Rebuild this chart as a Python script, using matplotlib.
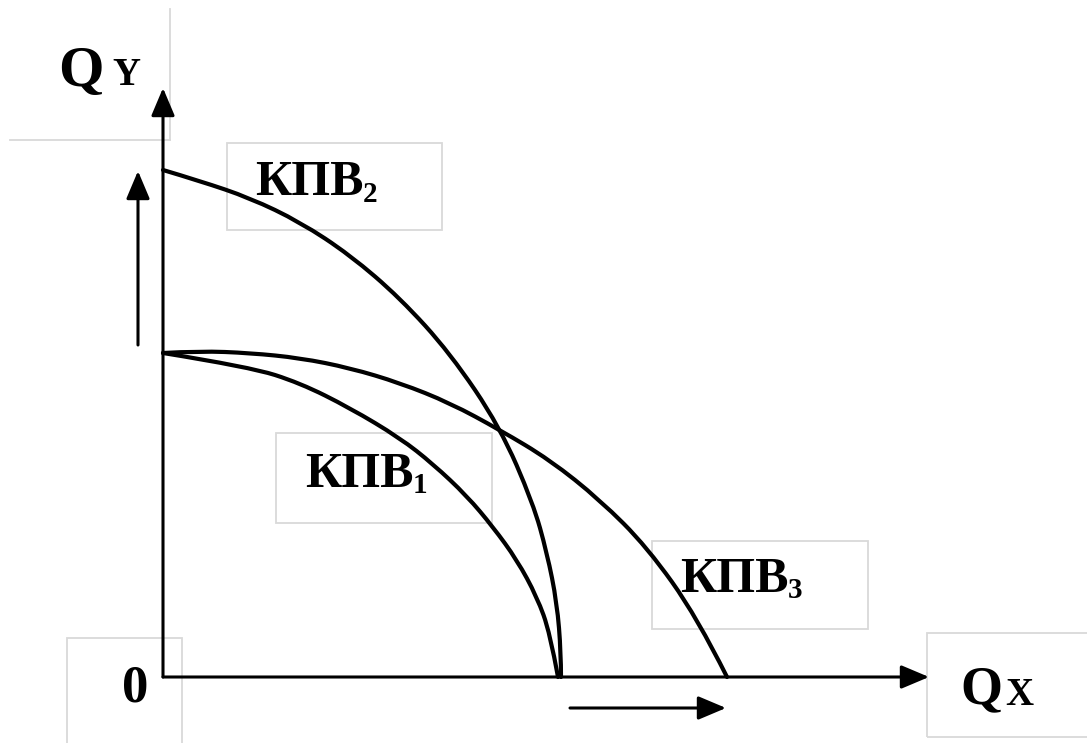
import numpy as np
import matplotlib
matplotlib.use("Agg")
import matplotlib.pyplot as plt
from matplotlib.path import Path
from matplotlib.patches import PathPatch, Rectangle

# ---- data (chart units: origin at the axes corner, x to the right, y upward) ----
kpv1_x = [0, 87, 137, 187, 237, 270, 304, 330, 354, 374, 387, 395]
kpv1_y = [324, 310, 294, 269, 239, 213, 181, 150, 117, 80, 44, 0]

kpv2_x = [0, 37, 87, 137, 187, 237, 287, 337, 370, 384, 394, 398, 398]
kpv2_y = [507, 496, 479, 455, 422, 379, 324, 250, 174, 124, 74, 24, 0]

kpv3_x = [0, 37, 87, 137, 187, 237, 287, 337, 387, 437, 484, 534, 564]
kpv3_y = [324, 326, 324, 319, 309, 294, 274, 247, 217, 177, 130, 60, 0]

curve_labels = ["КПВ", "КПВ", "КПВ"]
curve_subs = ["1", "2", "3"]

# ---- layout helpers (pixel positions of the reference converted to chart units) ----
OX, OY = 163, 677
def P(px, py):
    return (px - OX, OY - py)

fig = plt.figure(figsize=(10.87, 7.43), dpi=100)
ax = fig.add_axes([0, 0, 1, 1])
ax.set_xlim(-OX, 1087 - OX)
ax.set_ylim(OY - 743, OY)
ax.axis("off")

def smooth(xs, ys):
    pts = np.column_stack([xs, ys]).astype(float)
    n = len(pts)
    verts = [pts[0]]
    codes = [Path.MOVETO]
    for i in range(1, n - 1):
        end = (pts[i] + pts[i + 1]) / 2 if i < n - 2 else pts[n - 1]
        verts += [pts[i], end]
        codes += [Path.CURVE3, Path.CURVE3]
    return Path(verts, codes)

# light grey text-box borders
box_color = "#d9d9d9"
boxes = [(227, 143, 442, 230), (276, 433, 492, 523), (652, 541, 868, 629),
         (67, 638, 182, 760), (927, 633, 1100, 737)]
for x0, y0, x1, y1 in boxes:
    (a, b), (c, d) = P(x0, y1), P(x1, y0)
    ax.add_patch(Rectangle((a, b), c - a, d - b, fill=False, ec=box_color, lw=1.3, zorder=1))
ax.plot(*zip(P(170, 9), P(170, 140)), color=box_color, lw=1.3, zorder=1)
ax.plot(*zip(P(10, 140), P(170, 140)), color=box_color, lw=1.3, zorder=1)

# curves
for xs, ys in [(kpv1_x, kpv1_y), (kpv2_x, kpv2_y), (kpv3_x, kpv3_y)]:
    ax.add_patch(PathPatch(smooth(xs, ys), fill=False, ec="black", lw=3.0,
                           capstyle="round", joinstyle="round", zorder=3))

# axes with arrows
def arrow(p0, p1, lw=2.2):
    ax.annotate("", xy=p1, xytext=p0,
                arrowprops=dict(arrowstyle="-|>,head_length=0.9,head_width=0.38",
                                mutation_scale=19, lw=lw, color="black",
                                shrinkA=0, shrinkB=0), zorder=4)

arrow(P(163, 677), P(163, 88))
arrow(P(163, 677), P(929, 677))
arrow(P(138, 345), P(138, 171))
arrow(P(570, 708), P(726, 708))

# texts
font = dict(family="Liberation Serif", weight="bold", color="black")
def txt(px, py, s, size):
    return ax.text(*P(px, py), s, fontsize=size, ha="left", va="baseline", zorder=5, **font)

txt(58, 86, "Q", 42)
txt(112, 85, "Y", 28)
txt(960, 703, "Q", 39)
txt(1005, 705, "X", 28)
txt(122, 702, "0", 38)

label_pos = [((305, 487), 493), ((255, 195), 202), ((680, 592), 598)]
mains = []
for lab, ((mx, my), sy) in zip(curve_labels, label_pos):
    mains.append(txt(mx, my, lab, 36))

fig.canvas.draw()
renderer = fig.canvas.get_renderer()
inv = ax.transData.inverted()
for t, sub, (_, sy) in zip(mains, curve_subs, label_pos):
    bb = t.get_window_extent(renderer)
    xr = inv.transform((bb.x1, bb.y0))[0]
    ax.text(xr - 1, P(0, sy)[1], sub, fontsize=21, ha="left", va="baseline", zorder=5, **font)

fig.savefig("out.png", dpi=100, facecolor="white")
